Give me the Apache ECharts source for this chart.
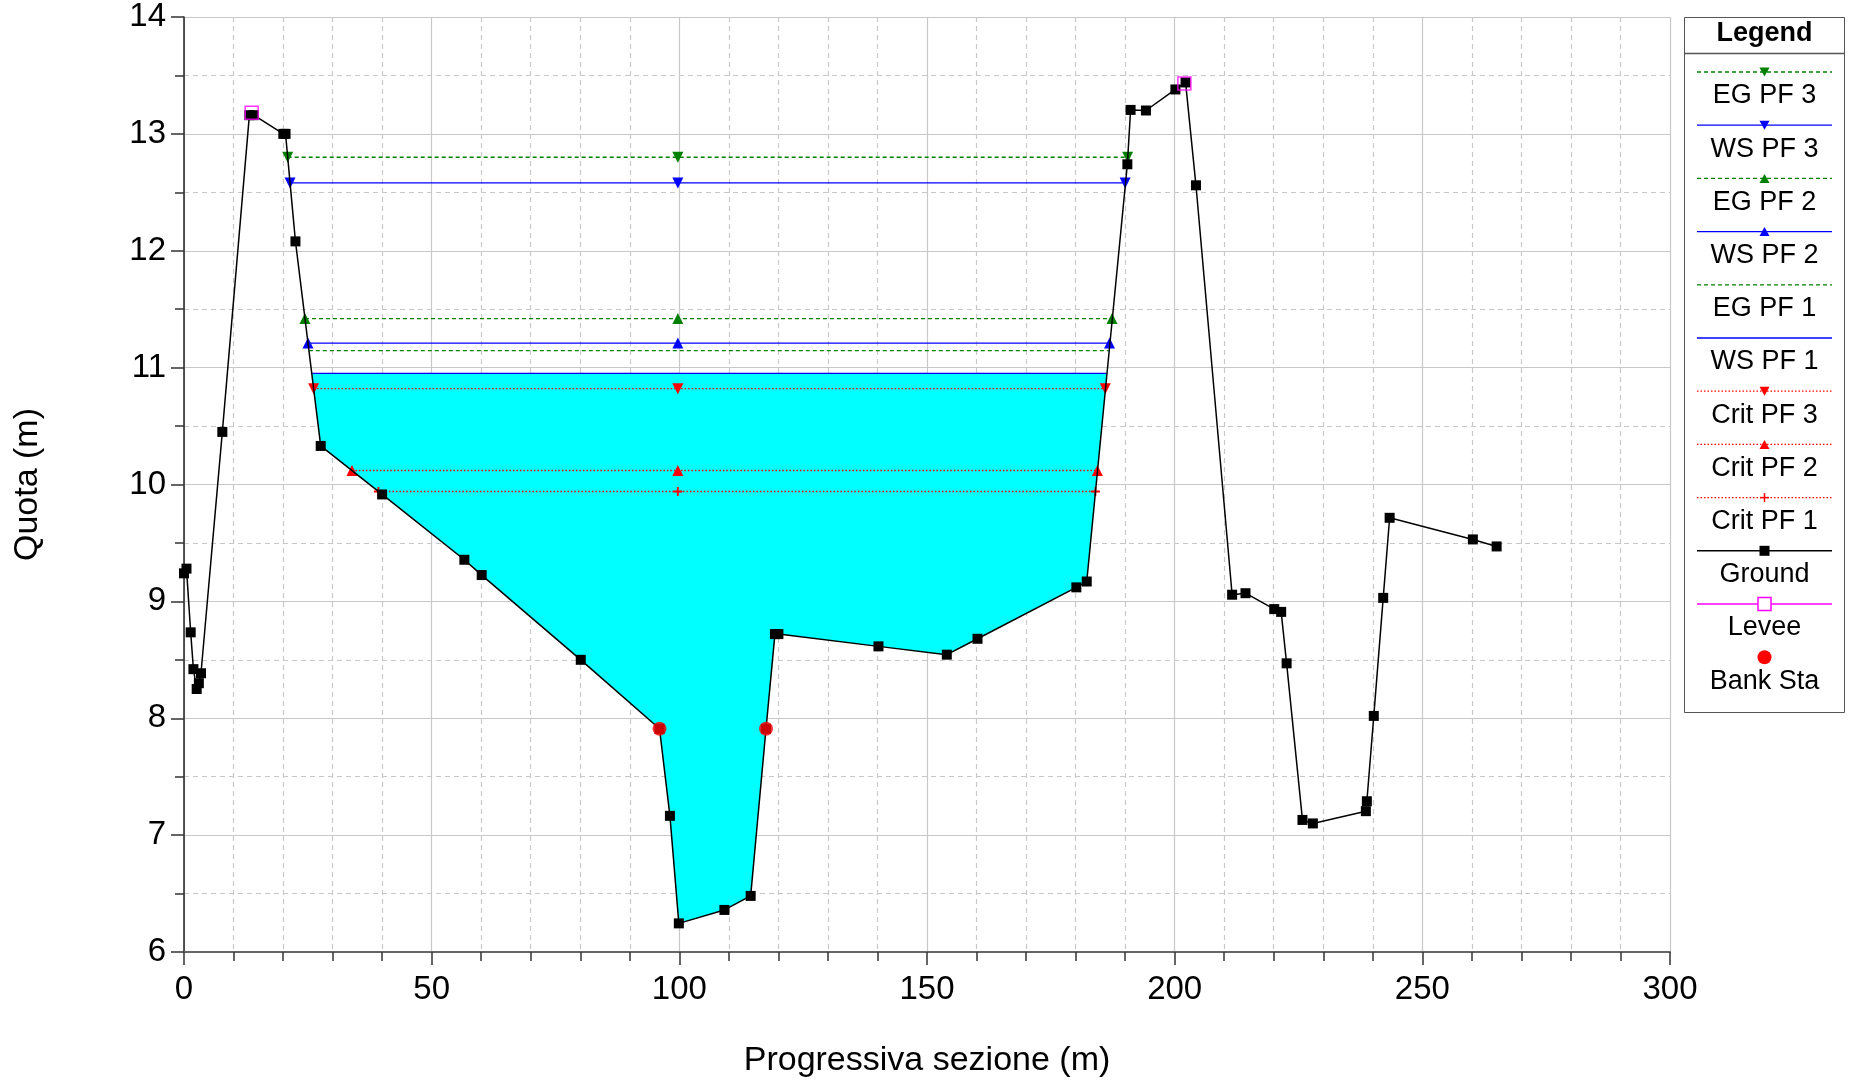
<!DOCTYPE html>
<html>
<head>
<meta charset="utf-8">
<script src="https://cdn.jsdelivr.net/npm/echarts@6/dist/echarts.min.js"></script>
<style>
html,body{margin:0;padding:0;background:#fff;}
#c{width:1852px;height:1083px;}
</style>
</head>
<body>
<div id="c"></div>
<script>
// ---- data ----
const groundX = [0, 0.5, 1.35, 1.9, 2.56, 3.0, 3.43, 7.74, 13.2, 14.1, 20.05, 20.5, 22.5, 27.6, 40.0, 56.6, 60.1, 80.1, 96.0, 98.1, 99.9, 109.1, 114.4, 117.5, 119.3, 120.0, 140.2, 154.0, 160.2, 180.15, 182.25, 190.45, 191.1, 194.2, 200.15, 202.2, 204.3, 211.6, 214.3, 220.1, 221.5, 222.6, 225.8, 227.9, 238.6, 238.8, 240.2, 242.1, 243.4, 260.2, 265.0];
const groundY = [9.24, 9.28, 8.735, 8.42, 8.25, 8.30, 8.385, 10.45, 13.16, 13.16, 13.0, 13.0, 12.08, 10.33, 9.915, 9.356, 9.225, 8.50, 7.91, 7.165, 6.245, 6.36, 6.48, 7.91, 8.72, 8.72, 8.615, 8.544, 8.68, 9.12, 9.17, 12.74, 13.205, 13.2, 13.38, 13.44, 12.56, 9.057, 9.07, 8.934, 8.91, 8.47, 7.13, 7.10, 7.205, 7.29, 8.02, 9.03, 9.715, 9.53, 9.47];
const leveeX = [13.67, 201.96];
const leveeY = [13.18, 13.43];
const bankX = [96.0, 117.5];
const bankY = [7.91, 7.91];
const wsNames = ['EG PF 3', 'WS PF 3', 'EG PF 2', 'WS PF 2', 'EG PF 1', 'WS PF 1', 'Crit PF 3', 'Crit PF 2', 'Crit PF 1'];
const wsElev  = [12.80, 12.58, 11.42, 11.21, 11.145, 10.95, 10.82, 10.12, 9.94];
const wsLeft  = [20.93, 21.41, 24.42, 25.03, 25.2, 25.8, 26.17, 33.9, 39.25];
const wsRight = [190.5, 190.0, 187.35, 186.85, 186.7, 186.3, 186.0, 184.4, 184.0];
const wsMidX = 99.7;
const xTicks = [0, 50, 100, 150, 200, 250, 300];
const yTicks = [6, 7, 8, 9, 10, 11, 12, 13, 14];
const legendNames = ['EG PF 3', 'WS PF 3', 'EG PF 2', 'WS PF 2', 'EG PF 1', 'WS PF 1', 'Crit PF 3', 'Crit PF 2', 'Crit PF 1', 'Ground', 'Levee', 'Bank Sta'];

// ---- styles ----
const FONT = '"Liberation Sans", Arial, Helvetica, sans-serif';
const GREEN = '#008000', BLUE = '#0000FF', RED = '#FF0000';
const PLUS = 'path://M4,0h2v4h4v2h-4v4h-2v-4h-4v-2h4z';
const wsStyle = [
  {c: GREEN, t: [4, 3], sym: 'triangle', rot: 180, mark: true},
  {c: BLUE, t: 'solid', sym: 'triangle', rot: 180, mark: true},
  {c: GREEN, t: [4, 3], sym: 'triangle', rot: 0, mark: true},
  {c: BLUE, t: 'solid', sym: 'triangle', rot: 0, mark: true},
  {c: GREEN, t: [4, 3], sym: 'none', rot: 0, mark: false},
  {c: BLUE, t: 'solid', sym: 'none', rot: 0, mark: false},
  {c: RED, t: [1.5, 2], sym: 'triangle', rot: 180, mark: true},
  {c: RED, t: [1.5, 2], sym: 'triangle', rot: 0, mark: true},
  {c: RED, t: [1.5, 2], sym: PLUS, rot: 0, mark: true}
];

const chart = echarts.init(document.getElementById('c'), null, {renderer: 'canvas'});

const series = [];
// fill under WS PF 1
const fillIdx = 5;
series.push({
  type: 'custom', name: 'fill', z: 1, silent: true,
  data: [[0]],
  renderItem: function (params, api) {
    const pts = [api.coord([wsLeft[fillIdx], wsElev[fillIdx]])];
    for (let i = 0; i < groundX.length; i++) {
      if (groundX[i] > wsLeft[fillIdx] && groundX[i] < wsRight[fillIdx]) pts.push(api.coord([groundX[i], groundY[i]]));
    }
    pts.push(api.coord([wsRight[fillIdx], wsElev[fillIdx]]));
    return {type: 'polygon', shape: {points: pts}, style: {fill: '#00FFFF', stroke: null}};
  }
});
// water lines
for (let k = 0; k < wsNames.length; k++) {
  const s = wsStyle[k];
  series.push({
    type: 'line', name: wsNames[k], z: 3,
    data: [[wsLeft[k], wsElev[k]], [wsMidX, wsElev[k]], [wsRight[k], wsElev[k]]],
    symbol: s.sym, symbolSize: s.sym === PLUS ? 9 : 11, symbolRotate: s.rot,
    showSymbol: s.mark, showAllSymbol: true,
    lineStyle: {color: s.c, width: 1.3, type: s.t},
    itemStyle: {color: s.c},
    animation: false
  });
}
// ground
series.push({
  type: 'line', name: 'Ground', z: 4,
  data: groundX.map((x, i) => [x, groundY[i]]),
  symbol: 'rect', symbolSize: 10, showAllSymbol: true,
  lineStyle: {color: '#000', width: 1.5},
  itemStyle: {color: '#000'}
});
// levee
series.push({
  type: 'scatter', name: 'Levee', z: 5,
  data: leveeX.map((x, i) => [x, leveeY[i]]),
  symbol: 'rect', symbolSize: 13,
  itemStyle: {color: 'rgba(0,0,0,0)', borderColor: '#FF00FF', borderWidth: 1.5}
});
// bank stations
series.push({
  type: 'scatter', name: 'Bank Sta', z: 5,
  data: bankX.map((x, i) => [x, bankY[i]]),
  symbol: 'circle', symbolSize: 14,
  itemStyle: {color: RED}
});

// ---- legend (graphic) ----
const LX0 = 1684, LX1 = 1844, LY0 = 17, LY1 = 712;
const lineL = 1697, lineR = 1832, mid = (lineL + lineR) / 2;
const g = [];
g.push({type: 'rect', shape: {x: LX0 + 0.5, y: LY0 + 0.5, width: LX1 - LX0, height: LY1 - LY0}, style: {fill: '#fff', stroke: '#555', lineWidth: 1}, z: 10});
g.push({type: 'text', style: {text: 'Legend', x: mid, y: 34, align: 'center', verticalAlign: 'middle', font: 'bold 27px ' + FONT, fill: '#000'}, z: 11});
g.push({type: 'line', shape: {x1: LX0, y1: 53.5, x2: LX1, y2: 53.5}, style: {stroke: '#555', lineWidth: 1.5}, z: 11});
function tri(cx, cy, down, color) {
  const h = 9, w = 10;
  const pts = down ? [[cx - w / 2, cy - h / 2], [cx + w / 2, cy - h / 2], [cx, cy + h / 2]]
                   : [[cx - w / 2, cy + h / 2], [cx + w / 2, cy + h / 2], [cx, cy - h / 2]];
  return {type: 'polygon', shape: {points: pts}, style: {fill: color}, z: 12};
}
legendNames.forEach(function (name, i) {
  const ly = 72 + i * 53.2, ty = 96 + i * 53.2;
  if (i < 9) {
    const s = wsStyle[i];
    g.push({type: 'line', shape: {x1: lineL, y1: ly, x2: lineR, y2: ly}, style: {stroke: s.c, lineWidth: 1.3, lineDash: s.t === 'solid' ? null : s.t}, z: 11});
    if (s.sym === 'triangle') g.push(tri(mid, ly, s.rot === 180, s.c));
    if (s.sym === PLUS) {
      g.push({type: 'line', shape: {x1: mid - 4.5, y1: ly, x2: mid + 4.5, y2: ly}, style: {stroke: s.c, lineWidth: 1.5}, z: 12});
      g.push({type: 'line', shape: {x1: mid, y1: ly - 4.5, x2: mid, y2: ly + 4.5}, style: {stroke: s.c, lineWidth: 1.5}, z: 12});
    }
  } else if (name === 'Ground') {
    g.push({type: 'line', shape: {x1: lineL, y1: ly, x2: lineR, y2: ly}, style: {stroke: '#000', lineWidth: 1.5}, z: 11});
    g.push({type: 'rect', shape: {x: mid - 5, y: ly - 5, width: 10, height: 10}, style: {fill: '#000'}, z: 12});
  } else if (name === 'Levee') {
    g.push({type: 'line', shape: {x1: lineL, y1: ly, x2: lineR, y2: ly}, style: {stroke: '#FF00FF', lineWidth: 1.5}, z: 11});
    g.push({type: 'rect', shape: {x: mid - 6.5, y: ly - 6.5, width: 13, height: 13}, style: {fill: '#fff', stroke: '#FF00FF', lineWidth: 1.5}, z: 12});
  } else {
    g.push({type: 'circle', shape: {cx: mid, cy: ly, r: 7}, style: {fill: RED}, z: 12});
  }
  g.push({type: 'text', style: {text: name, x: mid, y: ty, align: 'center', verticalAlign: 'middle', font: '27px ' + FONT, fill: '#000'}, z: 12});
});

const option = {
  animation: false,
  backgroundColor: '#fff',
  textStyle: {fontFamily: FONT},
  grid: {left: 184, right: 182, top: 17, bottom: 130, containLabel: false},
  xAxis: {
    type: 'value', min: xTicks[0], max: xTicks[xTicks.length - 1], interval: xTicks[1] - xTicks[0],
    name: 'Progressiva sezione (m)', nameLocation: 'middle', nameGap: 92,
    nameTextStyle: {fontSize: 34, color: '#000', fontFamily: FONT},
    axisLine: {show: true, onZero: false, lineStyle: {color: '#666', width: 2}},
    axisTick: {show: true, length: 13, lineStyle: {color: '#333', width: 1.5}},
    minorTick: {show: true, splitNumber: 5, length: 9, lineStyle: {color: '#333', width: 1.5}},
    axisLabel: {fontSize: 33, color: '#000', margin: 21, fontFamily: FONT},
    splitLine: {show: true, lineStyle: {color: '#c8c8c8', width: 1.2}},
    minorSplitLine: {show: true, lineStyle: {color: '#c8c8c8', width: 1.2, type: [5, 4]}}
  },
  yAxis: {
    type: 'value', min: yTicks[0], max: yTicks[yTicks.length - 1], interval: yTicks[1] - yTicks[0],
    name: 'Quota (m)', nameLocation: 'middle', nameGap: 139, nameRotate: 90,
    nameTextStyle: {fontSize: 34, color: '#000', fontFamily: FONT},
    axisLine: {show: true, onZero: false, lineStyle: {color: '#222', width: 1.5}},
    axisTick: {show: true, length: 13, lineStyle: {color: '#333', width: 1.5}},
    minorTick: {show: true, splitNumber: 2, length: 9, lineStyle: {color: '#333', width: 1.5}},
    axisLabel: {fontSize: 33, color: '#000', margin: 18, fontFamily: FONT},
    splitLine: {show: true, lineStyle: {color: '#c8c8c8', width: 1.2}},
    minorSplitLine: {show: true, lineStyle: {color: '#c8c8c8', width: 1.2, type: [5, 4]}}
  },
  series: series,
  graphic: g
};
chart.setOption(option);
</script>
</body>
</html>
